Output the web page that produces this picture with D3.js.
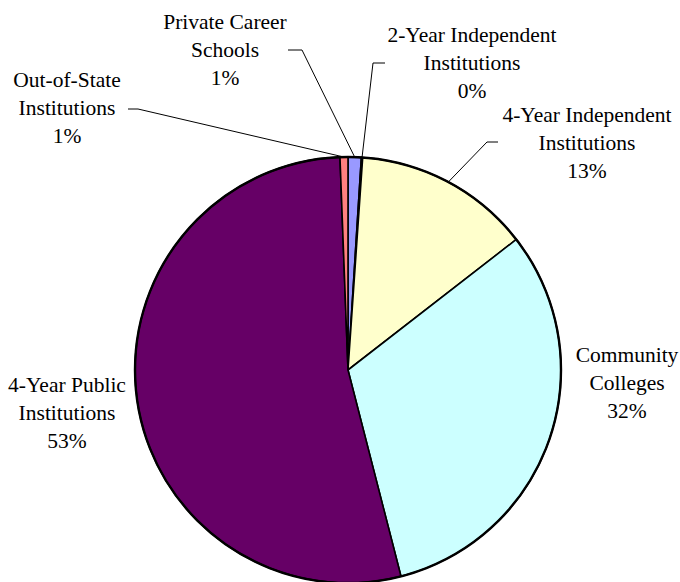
<!DOCTYPE html>
<html>
<head>
<meta charset="utf-8">
<script src="https://cdn.jsdelivr.net/npm/d3@7"></script>
<style>
  body { margin: 0; background: #fff; }
  text { font-family: "Liberation Serif", "Times New Roman", serif; font-size: 21.5px; fill: #000; }
</style>
</head>
<body>
<script>
// slices, clockwise from 12 o'clock
const categories = ['Private Career Schools', '2-Year Independent Institutions', '4-Year Independent Institutions',
  'Community Colleges', '4-Year Public Institutions', 'Out-of-State Institutions'];
const shares = [1.0, 0.1, 13.4, 31.5, 53.4, 0.6];
const labelLines = [
  ['Private Career', 'Schools'],
  ['2-Year Independent', 'Institutions'],
  ['4-Year Independent', 'Institutions'],
  ['Community', 'Colleges'],
  ['4-Year Public', 'Institutions'],
  ['Out-of-State', 'Institutions']
];
const colors = ['#9999ff', '#ccffff', '#ffffcc', '#ccffff', '#660066', '#ff8080'];

// label block centre (x, y of first line) and leader elbow for each slice
const labelPos = [
  { x: 225, y: 22, elbow: [302, 50], hook: [288, 50] },
  { x: 472, y: 35, elbow: [373, 63], hook: [385, 63] },
  { x: 587, y: 115, elbow: [487, 142], hook: [498, 142] },
  { x: 627, y: 355 },
  { x: 67, y: 385 },
  { x: 67, y: 80, elbow: [138, 109], hook: [128, 109] }
];

const width = 680;
const height = 582;
const cx = 348, cy = 370, radius = 213;
const lineGap = 28;

const svg = d3.select('body').append('svg')
  .attr('width', width)
  .attr('height', height);

const pie = d3.pie().sort(null).value(d => d);
const arcs = pie(shares);
const arc = d3.arc().innerRadius(0).outerRadius(radius);

const chart = svg.append('g')
  .attr('transform', `translate(${cx}, ${cy})`);

chart.selectAll('path').data(arcs)
  .enter().append('path')
  .attr('d', arc)
  .attr('fill', (d, i) => colors[i])
  .attr('stroke', '#000')
  .attr('stroke-width', 1.6)
  .attr('stroke-linejoin', 'round');

// heavier outline round the whole pie
chart.append('circle')
  .attr('r', radius)
  .attr('fill', 'none')
  .attr('stroke', '#000')
  .attr('stroke-width', 2.4);

// leader lines
arcs.forEach((d, i) => {
  const p = labelPos[i];
  if (!p.elbow) return;
  const mid = (d.startAngle + d.endAngle) / 2;
  const sx = cx + radius * Math.sin(mid);
  const sy = cy - radius * Math.cos(mid);
  svg.append('polyline')
    .attr('points', `${p.hook[0]},${p.hook[1]} ${p.elbow[0]},${p.elbow[1]} ${sx},${sy}`)
    .attr('fill', 'none')
    .attr('stroke', '#000')
    .attr('stroke-width', 1);
});

// labels
arcs.forEach((d, i) => {
  const p = labelPos[i];
  const lines = labelLines[i].concat([Math.round(shares[i]) + '%']);
  const t = svg.append('text')
    .attr('text-anchor', 'middle');
  lines.forEach((s, j) => {
    t.append('tspan')
      .attr('x', p.x)
      .attr('y', p.y + j * lineGap)
      .attr('dominant-baseline', 'central')
      .text(s);
  });
});
</script>
</body>
</html>
